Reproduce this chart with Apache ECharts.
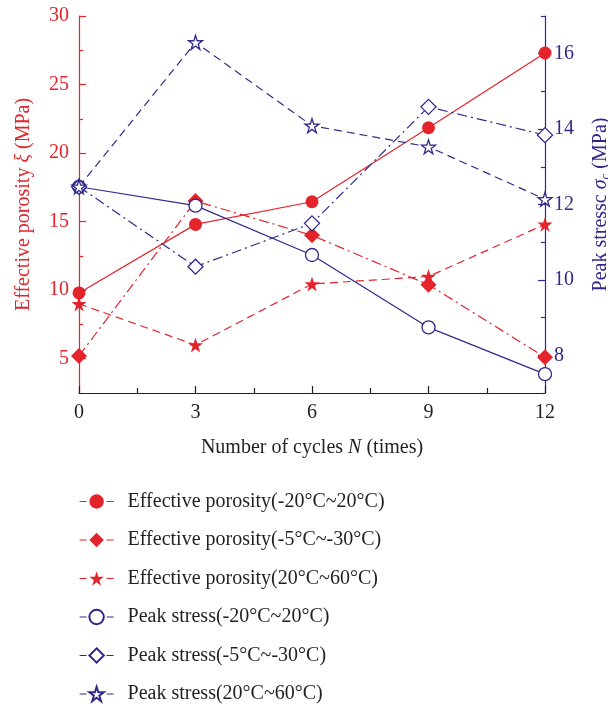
<!DOCTYPE html>
<html><head><meta charset="utf-8">
<script src="https://cdn.jsdelivr.net/npm/echarts@6/dist/echarts.min.js"></script>
<style>html,body{margin:0;padding:0;background:#fff}#c{width:608px;height:706px}</style>
</head><body><div id="c"></div>
<script>
const cycles = [0, 3, 6, 9, 12];
const porosityCircle = [9.8, 14.8, 16.45, 21.85, 27.3];
const porosityDiamond = [5.2, 16.5, 14.0, 10.4, 5.1];
const porosityStar = [9.0, 6.0, 10.45, 11.0, 14.8];
const stressCircle = [12.47, 11.97, 10.66, 8.74, 7.5];
const stressDiamond = [12.47, 10.35, 11.5, 14.59, 13.84];
const stressStar = [12.47, 16.3, 14.09, 13.53, 12.14];
const leftTicks = [5, 10, 15, 20, 25, 30];
const leftMinorTicks = [7.5, 12.5, 17.5, 22.5, 27.5];
const rightTicks = [8, 10, 12, 14, 16];
const rightMinorTicks = [7, 9, 11, 13, 15, 17];
const names = [
  'Effective porosity(-20°C~20°C)',
  'Effective porosity(-5°C~-30°C)',
  'Effective porosity(20°C~60°C)',
  'Peak stress(-20°C~20°C)',
  'Peak stress(-5°C~-30°C)',
  'Peak stress(20°C~60°C)'
];

const RED = '#e4232b', BLUE = '#30298a', INK = '#231f20';
const FONT = 'Liberation Serif';
const STAR = 'path://M0,-10L2.245,-3.09L9.511,-3.09L3.633,1.18L5.878,8.09L0,3.82L-5.878,8.09L-3.633,1.18L-9.511,-3.09L-2.245,-3.09Z';
const DASH = [8, 5], DASHDOT = [10, 4, 2, 4];

function pts(ys) { return cycles.map((x, i) => [x, ys[i]]); }
function mk(name, ys, axis, color, symbol, size, lineType, hollow) {
  return {
    name, type: 'line', yAxisIndex: axis, data: pts(ys), clip: false,
    symbol, symbolSize: size, showAllSymbol: true,
    lineStyle: { color, width: 1.2, type: lineType },
    itemStyle: hollow ? { color: '#fff', borderColor: color, borderWidth: 1.3 } : { color, borderWidth: 0 },
    emphasis: { disabled: true }
  };
}

const chart = echarts.init(document.getElementById('c'), null, { renderer: 'canvas' });
const tickFont = { fontFamily: FONT, fontSize: 20 };
chart.setOption({
  animation: false,
  grid: { left: 79, right: 63, top: 16, bottom: 313, outerBoundsMode: 'none', containLabel: false },
  xAxis: {
    type: 'value', min: 0, max: 12, interval: 3,
    name: '{a|Number of cycles }{i|N}{a| (times)}', nameLocation: 'middle', nameGap: 45,
    nameTextStyle: { rich: { a: { fontFamily: FONT, fontSize: 20, color: INK }, i: { fontFamily: FONT, fontSize: 20, fontStyle: 'italic', color: INK } } },
    axisLine: { onZero: false, lineStyle: { color: INK, width: 1.2 } },
    axisTick: { inside: true, length: 7, lineStyle: { color: INK, width: 1.2 } },
    minorTick: { show: true, splitNumber: 2, length: 5, lineStyle: { color: INK, width: 1.2 } },
    axisLabel: Object.assign({ color: INK, margin: 10 }, tickFont),
    splitLine: { show: false }
  },
  yAxis: [
    {
      type: 'value', position: 'left', min: 2.5, max: 30,
      name: '{a|Effective porosity }{i|ξ}{a| (MPa)}', nameLocation: 'middle', nameGap: 45,
      nameTextStyle: { rich: { a: { fontFamily: FONT, fontSize: 20, color: RED }, i: { fontFamily: FONT, fontSize: 20, fontStyle: 'italic', color: RED } } },
      axisLine: { show: true, lineStyle: { color: RED, width: 1.2 } },
      axisTick: { show: true, inside: true, length: 7, customValues: leftTicks, lineStyle: { color: RED, width: 1.2 } },
      axisLabel: Object.assign({ color: RED, margin: 10, customValues: leftTicks }, tickFont),
      splitLine: { show: false }
    },
    {
      type: 'value', position: 'right', min: 7, max: 17,
      name: '{a|Peak stressc }{i|σ}{s|c}{a| (MPa)}', nameLocation: 'middle', nameGap: 45,
      nameTextStyle: { rich: {
        a: { fontFamily: FONT, fontSize: 20, color: BLUE },
        i: { fontFamily: FONT, fontSize: 20, fontStyle: 'italic', color: BLUE },
        s: { fontFamily: FONT, fontSize: 13, fontStyle: 'italic', color: BLUE, padding: [9, 0, 0, 0] }
      } },
      axisLine: { show: true, lineStyle: { color: BLUE, width: 1.2 } },
      axisTick: { show: true, inside: true, length: 7, customValues: rightTicks, lineStyle: { color: BLUE, width: 1.2 } },
      axisLabel: Object.assign({ color: BLUE, margin: 9, customValues: rightTicks }, tickFont),
      splitLine: { show: false }
    },
    {
      type: 'value', position: 'left', min: 2.5, max: 30,
      axisLine: { show: false },
      axisTick: { show: true, inside: true, length: 4, customValues: leftMinorTicks, lineStyle: { color: RED, width: 1.2 } },
      axisLabel: { show: false }, splitLine: { show: false }
    },
    {
      type: 'value', position: 'right', min: 7, max: 17,
      axisLine: { show: false },
      axisTick: { show: true, inside: true, length: 4, customValues: rightMinorTicks, lineStyle: { color: BLUE, width: 1.2 } },
      axisLabel: { show: false }, splitLine: { show: false }
    }
  ],
  legend: {
    orient: 'vertical', left: 79, top: 489.5, height: 230, padding: 0,
    itemWidth: 34, itemHeight: 18, itemGap: 14.5,
    data: names,
    lineStyle: { type: [7, 20], width: 1.2 },
    textStyle: { fontFamily: FONT, fontSize: 20, color: INK, lineHeight: 24, padding: [0, 0, 0, 9] },
    selectedMode: false
  },
  series: [
    mk(names[0], porosityCircle, 0, RED, 'circle', 13, 'solid', false),
    mk(names[1], porosityDiamond, 0, RED, 'diamond', 16, DASHDOT, false),
    mk(names[2], porosityStar, 0, RED, STAR, 15, DASH, false),
    mk(names[3], stressCircle, 1, BLUE, 'circle', 13, 'solid', true),
    mk(names[4], stressDiamond, 1, BLUE, 'diamond', 15, DASHDOT, true),
    mk(names[5], stressStar, 1, BLUE, STAR, 14, DASH, true)
  ]
});
</script></body></html>
